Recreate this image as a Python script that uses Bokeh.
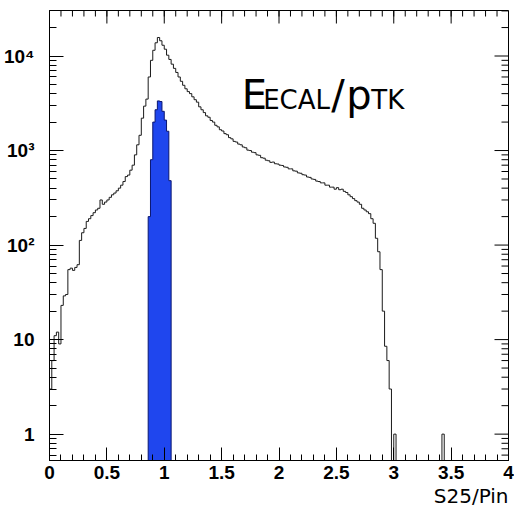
import numpy as np
from bokeh.plotting import figure
from bokeh.models import Range1d, FixedTicker, Label, Title
from bokeh.embed import file_html
from bokeh.resources import INLINE

# ---------------- data ----------------
bin_width = 0.02
x_min, x_max = 0.0, 4.0

# all candidates, bins of 0.02 from 0.00 to 1.00
counts_0_to_1 = [3, 6, 11, 12, 9, 23, 29, 30, 55, 57,
                 54, 58, 62, 112, 135, 150, 178, 190, 205, 220,
                 235, 245, 300, 270, 285, 300, 320, 340, 355, 375,
                 400, 430, 470, 530, 550, 620, 700, 900, 1150, 1450,
                 2200, 2950, 3500, 6000, 9000, 11500, 13800, 15700, 14500, 13000]
# bins from 1.00 to 2.00
counts_1_to_2 = [11800, 10200, 9200, 8200, 7400, 6700, 6000, 5400, 4900, 4500,
                 4200, 4000, 3700, 3450, 3250, 2900, 2700, 2520, 2330, 2250,
                 2080, 2000, 1850, 1780, 1660, 1610, 1510, 1470, 1370, 1330,
                 1250, 1230, 1170, 1150, 1090, 1070, 1010, 1000, 960, 950,
                 900, 890, 840, 830, 790, 780, 750, 755, 725, 720]
# bins from 2.00 to 3.00
counts_2_to_3 = [700, 695, 670, 665, 640, 640, 610, 605, 580, 575,
                 555, 550, 525, 520, 500, 495, 475, 470, 455, 455,
                 430, 430, 410, 410, 390, 405, 385, 390, 370, 360,
                 340, 325, 310, 295, 285, 270, 245, 235, 225, 215,
                 190, 170, 118, 85, 55, 20, 8.5, 6, 3, 0]
# isolated entries beyond 3
isolated_x = [3.01, 3.43]
isolated_counts = [1, 1]

# selected electrons (blue), bins of 0.02 starting at 0.86
blue_start = 0.86
blue_counts = [200, 800, 2000, 2700, 3350, 3300, 2600, 2100, 1600, 480]

x_major = [0, 0.5, 1, 1.5, 2, 2.5, 3, 3.5, 4]
x_labels = ["0", "0.5", "1", "1.5", "2", "2.5", "3", "3.5", "4"]
y_major = [1, 10, 100, 1000, 10000]
y_labels = ["1", "10", "10\u00b2", "10\u00b3", "10\u2074"]

# ---------------- build histograms ----------------
n_bins = int(round((x_max - x_min) / bin_width))
counts = np.zeros(n_bins)
first = np.array(counts_0_to_1 + counts_1_to_2 + counts_2_to_3, dtype=float)
counts[:len(first)] = first
for xv, c in zip(isolated_x, isolated_counts):
    counts[int((xv - x_min) / bin_width)] = c

edges = x_min + bin_width * np.arange(n_bins + 1)
floor = 1e-3
step_x = np.concatenate([[edges[0]], np.repeat(edges, 2)[1:-1], [edges[-1]]])
step_y = np.concatenate([[floor], np.repeat(np.where(counts > 0, counts, floor), 2), [floor]])

b = np.array(blue_counts, dtype=float)
b_edges = blue_start + bin_width * np.arange(len(b) + 1)
bx = np.concatenate([[b_edges[0]], np.repeat(b_edges, 2)[1:-1], [b_edges[-1]]])
by = np.concatenate([[floor], np.repeat(b, 2), [floor]])

# ---------------- figure ----------------
y_lo, y_hi = 0.526, 30300
W, H = 514, 512
border_l, border_r, border_t, border_b = 49, 6, 10, 52
frame_w_px = W - border_l - border_r
frame_h_px = H - border_t - border_b
px_per_x = frame_w_px / (x_max - x_min)
px_per_dec = frame_h_px / np.log10(y_hi / y_lo)

p = figure(width=W, height=H, x_range=Range1d(x_min, x_max),
           y_range=Range1d(y_lo, y_hi), y_axis_type="log",
           output_backend="svg", toolbar_location=None,
           min_border_left=border_l, min_border_right=border_r,
           min_border_top=border_t, min_border_bottom=border_b)
p.xgrid.visible = False
p.ygrid.visible = False
p.outline_line_color = "black"
p.outline_line_width = 1
p.background_fill_color = "white"
p.border_fill_color = "white"

p.patch(bx, by, fill_color="#1f46ee", line_color="#0a1670", line_width=1)
p.line(step_x, step_y, line_color="#1a1a1a", line_width=1)

x_minor = [round(0.1 * i, 1) for i in range(41)]
y_minor = [m * 10.0 ** e for e in range(-1, 5) for m in range(2, 10)]
y_minor = [v for v in y_minor if y_lo < v < y_hi]
x_ticker = FixedTicker(ticks=x_major, minor_ticks=x_minor)
y_ticker = FixedTicker(ticks=y_major, minor_ticks=y_minor)

def style(ax, maj, mnr):
    ax.axis_line_color = "black"
    ax.axis_line_width = 1
    ax.major_tick_in = maj
    ax.major_tick_out = 0
    ax.minor_tick_in = mnr
    ax.minor_tick_out = 0
    ax.major_tick_line_color = "black"
    ax.minor_tick_line_color = "black"
    ax.major_label_text_font = "Liberation Sans"
    ax.major_label_text_font_style = "bold"
    ax.major_label_text_font_size = "19px"
    ax.major_label_text_color = "black"

xa = p.xaxis[0]
xa.ticker = x_ticker
xa.major_label_overrides = {float(v): s for v, s in zip(x_major, x_labels)}
style(xa, 13, 6)
xa.major_label_standoff = 5

ya = p.yaxis[0]
ya.ticker = y_ticker
ya.major_label_overrides = {float(v): s for v, s in zip(y_major, y_labels)}
style(ya, 14, 7)
ya.major_label_standoff = 15

# x axis title, right aligned under the tick labels
p.add_layout(Title(text="S25/Pin", align="right", text_font="DejaVu Sans",
                   text_font_size="20px", text_font_style="normal",
                   text_color="black", standoff=0, offset=0), "below")

# mirrored ticks on the top and right frame edges (no labels)
top_major_y1 = y_hi / 10 ** (13 / px_per_dec)
top_minor_y1 = y_hi / 10 ** (6 / px_per_dec)
p.segment(x0=x_major, x1=x_major, y0=[y_hi] * len(x_major), y1=[top_major_y1] * len(x_major),
          line_color="black", line_width=1)
p.segment(x0=x_minor, x1=x_minor, y0=[y_hi] * len(x_minor), y1=[top_minor_y1] * len(x_minor),
          line_color="black", line_width=1)
p.segment(x0=[x_max] * len(y_major), x1=[x_max - 14 / px_per_x] * len(y_major),
          y0=y_major, y1=y_major, line_color="black", line_width=1)
p.segment(x0=[x_max] * len(y_minor), x1=[x_max - 7 / px_per_x] * len(y_minor),
          y0=y_minor, y1=y_minor, line_color="black", line_width=1)

# in-plot annotation E_ECAL / p_TK, all pieces on a common baseline
base_value = 2729
def y_for_baseline(font_px):
    # the text anchor sits ~0.35 em above the baseline
    return base_value * 10 ** (0.35 * font_px / px_per_dec)

parts = [(1.675, "E", 40), (1.862, "ECAL", 26), (2.455, "/", 40),
         (2.585, "p", 40), (2.805, "TK", 26)]
for xv, t, fs in parts:
    p.add_layout(Label(x=xv, y=y_for_baseline(fs), text=t, text_align="left",
                       text_baseline="middle", text_font="DejaVu Sans",
                       text_font_size=f"{fs}px", text_color="black"))

open("out.html", "w").write(file_html(p, INLINE))
